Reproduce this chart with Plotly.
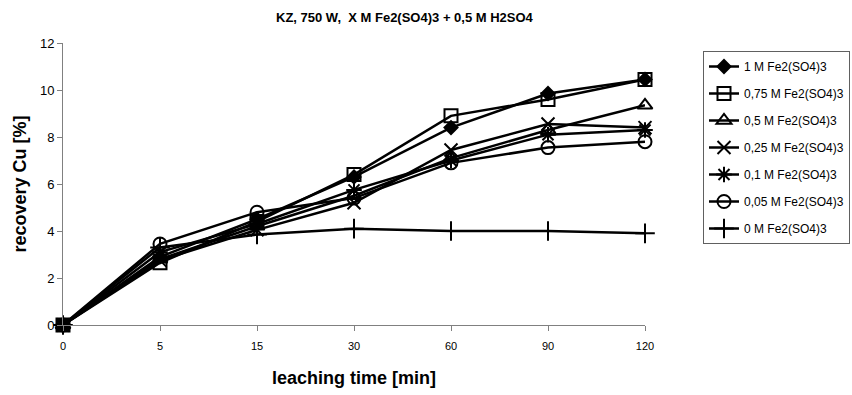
import plotly.graph_objects as go

categories = ["0", "5", "15", "30", "60", "90", "120"]
series_names = [
    "1 M Fe2(SO4)3",
    "0,75 M Fe2(SO4)3",
    "0,5 M Fe2(SO4)3",
    "0,25 M Fe2(SO4)3",
    "0,1 M Fe2(SO4)3",
    "0,05 M Fe2(SO4)3",
    "0 M Fe2(SO4)3",
]
s_1M = [0, 2.9, 4.5, 6.3, 8.4, 9.85, 10.45]
s_075M = [0, 2.65, 4.4, 6.4, 8.9, 9.6, 10.45]
s_05M = [0, 2.8, 4.2, 5.5, 7.1, 8.3, 9.35]
s_025M = [0, 2.75, 4.05, 5.2, 7.45, 8.55, 8.4]
s_01M = [0, 3.1, 4.3, 5.75, 7.0, 8.1, 8.3]
s_005M = [0, 3.45, 4.8, 5.4, 6.9, 7.55, 7.8]
s_0M = [0, 3.3, 3.85, 4.1, 4.0, 4.0, 3.9]
series_values = [s_1M, s_075M, s_05M, s_025M, s_01M, s_005M, s_0M]
symbols = ["diamond", "square-open", "triangle-up-open", "x-thin-open",
           "asterisk-open", "circle-open", "cross-thin-open"]
sizes = [10, 13, 13, 13, 13, 13, 14]

xi = list(range(len(categories)))

fig = go.Figure()
for name, vals, sym, sz in zip(series_names, series_values, symbols, sizes):
    fig.add_trace(go.Scatter(
        x=xi, y=vals, name=name, mode="lines+markers",
        legendgroup=name,
        line=dict(color="black", width=2.5),
        marker=dict(symbol=sym, size=sz, color="black",
                    line=dict(color="black", width=2)),
        cliponaxis=False,
    ))

fig.update_layout(
    width=852, height=395,
    margin=dict(l=63, r=207, t=43, b=70, autoexpand=False),
    paper_bgcolor="white", plot_bgcolor="white",
    font=dict(family="Liberation Sans, Arial, sans-serif", color="black"),
    showlegend=True,
    legend=dict(
        x=(703 - 63) / 582, y=(325 - 51) / 282, xanchor="left", yanchor="top",
        bordercolor="#606060", borderwidth=1, bgcolor="white",
        font=dict(size=12, color="black"),
        tracegroupgap=8, traceorder="grouped",
    ),
    xaxis=dict(
        range=[0, 6], tickmode="array", tickvals=xi, ticktext=categories,
        showgrid=False, zeroline=False, showline=True, linecolor="#808080",
        linewidth=1, ticks="outside", ticklen=5, tickcolor="#808080",
        tickfont=dict(size=11, color="black"), ticklabelstandoff=6,
        title=dict(text="<b>leaching time [min]</b>",
                   font=dict(size=18, color="black"), standoff=20),
    ),
    yaxis=dict(
        range=[0, 12], dtick=2, showgrid=False, zeroline=False, showline=True,
        linecolor="#808080", linewidth=1, ticks="outside", ticklen=5,
        tickcolor="#808080", tickfont=dict(size=13, color="black"),
        title=dict(text="<b>recovery Cu [%]</b>",
                   font=dict(size=18, color="black"), standoff=8),
    ),
    annotations=[dict(
        text="<b>KZ, 750 W,  X M Fe2(SO4)3 + 0,5 M H2SO4</b>",
        x=(405 - 63) / 582, y=1, xref="paper", yref="paper",
        xanchor="center", yanchor="bottom", yshift=16, showarrow=False,
        font=dict(size=13, color="black"),
    )],
)

fig.write_html("out.html")
